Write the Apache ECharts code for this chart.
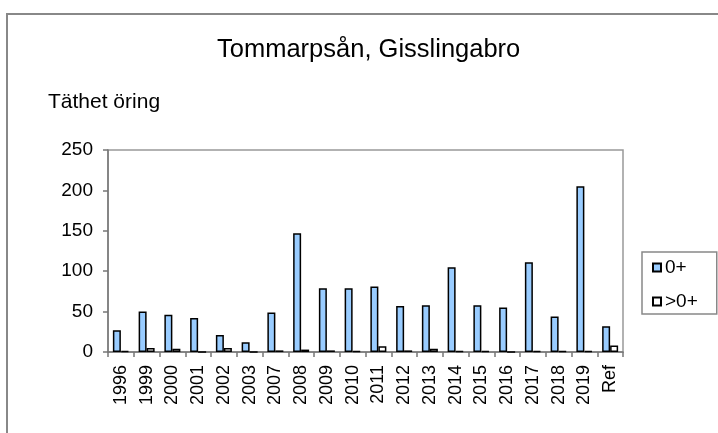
<!DOCTYPE html>
<html>
<head>
<meta charset="utf-8">
<script src="https://cdn.jsdelivr.net/npm/echarts@6/dist/echarts.min.js"></script>
<style>html,body{margin:0;padding:0;background:#fff}#c{width:718px;height:433px}</style>
</head>
<body>
<div id="c"></div>
<script>
var categories = ['1996','1999','2000','2001','2002','2003','2007','2008','2009','2010','2011','2012','2013','2014','2015','2016','2017','2018','2019','Ref'];
var young = [27, 50, 46, 42, 21, 12, 49, 147, 79, 79, 81, 57, 58, 105, 58, 55, 111, 44, 205, 32];
var older = [1, 5, 4, 0, 5, 0, 2, 3, 2, 1, 7, 2, 4, 1, 1, 0, 1, 1, 1, 8];
var yTicks = [0, 50, 100, 150, 200, 250];
var seriesNames = ['0+', '>0+'];

var FONT = '"Liberation Sans", Arial, sans-serif';
var chart = echarts.init(document.getElementById('c'), null, {renderer: 'canvas'});
chart.setOption({
  animation: false,
  backgroundColor: '#fff',
  textStyle: {fontFamily: FONT, color: '#000'},
  graphic: [{
    type: 'rect', shape: {x: 7, y: 14, width: 760, height: 470},
    style: {fill: 'none', stroke: '#888', lineWidth: 2}, silent: true, z: -1
  }],
  title: [
    {text: 'Tommarpsån, Gisslingabro', left: 217, top: 37, padding: 0,
     textStyle: {fontFamily: FONT, fontSize: 25.5, fontWeight: 'normal', color: '#000'}},
    {text: 'Täthet öring', left: 48, top: 92, padding: 0,
     textStyle: {fontFamily: FONT, fontSize: 21, fontWeight: 'normal', color: '#000'}}
  ],
  legend: {
    orient: 'vertical', left: 642, top: 252,
    padding: [6, 19, 3, 10], itemGap: 15, itemWidth: 8, itemHeight: 8,
    borderColor: '#888', borderWidth: 1.5,
    icon: 'rect',
    textStyle: {fontFamily: FONT, fontSize: 19, color: '#000', padding: [0, 0, 0, -1]},
    data: seriesNames
  },
  grid: {left: 108, top: 150, right: 95, bottom: 81, show: true, borderColor: '#999', borderWidth: 1.5, backgroundColor: 'transparent'},
  xAxis: {
    type: 'category', data: categories, boundaryGap: true,
    axisLine: {lineStyle: {color: '#777', width: 1.5}},
    axisTick: {show: true, length: 5, lineStyle: {color: '#777', width: 1.5}},
    axisLabel: {rotate: 90, margin: 13, fontFamily: FONT, fontSize: 18, color: '#000', interval: 0}
  },
  yAxis: {
    type: 'value', min: yTicks[0], max: yTicks[yTicks.length - 1], interval: 50,
    axisLine: {show: true, lineStyle: {color: '#777', width: 1.5}},
    axisTick: {show: true, length: 5, lineStyle: {color: '#777', width: 1.5}},
    splitLine: {show: false},
    axisLabel: {margin: 15, fontFamily: FONT, fontSize: 19, color: '#000'}
  },
  series: [
    {name: seriesNames[0], type: 'bar', data: young, barWidth: 8, barGap: '0%',
     itemStyle: {color: '#99ccff', borderColor: '#000', borderWidth: 1.5}},
    {name: seriesNames[1], type: 'bar', data: older, barWidth: 8, barGap: '0%',
     itemStyle: {color: '#ffffff', borderColor: '#000', borderWidth: 1.5}}
  ]
});
</script>
</body>
</html>
